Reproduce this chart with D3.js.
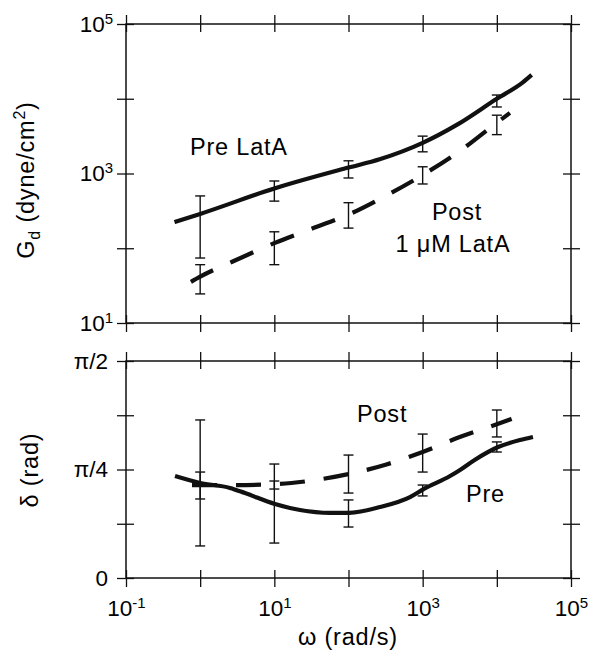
<!DOCTYPE html>
<html><head><meta charset="utf-8">
<script src="https://cdn.jsdelivr.net/npm/d3@7"></script>
<style>
body{margin:0;background:#fff}
svg{display:block}
text{font-family:"Liberation Sans",Arial,Helvetica,sans-serif;fill:#000}
</style>
</head><body><svg id="c" width="592" height="656"></svg>
<script>
// ---------- data ----------
const freqTicks = [0.1, 1, 10, 100, 1000, 10000, 100000];
const gTicks = [10, 100, 1000, 10000, 100000];
const deltaTicks = [0, Math.PI/8, Math.PI/4, 3*Math.PI/8, Math.PI/2];
const deltaTickLabels = ["0", "", "π/4", "", "π/2"];
const errFreq = [1, 10, 100, 1000, 10000];

// G_d curves [omega, G]
const preG = [[0.45,224],[1,288],[10,630],[100,1200],[263,1550],[1000,2570],[2880,4470],[10000,10000],[22400,16600],[29500,20900]];
const postG = [[0.75,35.5],[1,41.7],[2.7,66],[10,117],[31.6,182],[100,282],[316,501],[1000,955],[3162,1995],[10000,4790],[15000,6460]];
// G_d error bars
const preGLow  = [74, 427, 871, 1950, 7762];
const preGHigh = [501, 794, 1479, 3162, 11220];
const postGLow  = [24.5, 60.3, 186, 724, 3311];
const postGHigh = [60.3, 166, 407, 1230, 6026];

// delta curves [omega, rad]
const preD = [[0.458,0.738],[1,0.688],[2.52,0.652],[4.02,0.615],[10.2,0.536],[22.2,0.492],[56,0.471],[102,0.472],[266,0.514],[675,0.586],[1040,0.645],[2340,0.738],[3190,0.782],[5080,0.856],[10400,0.948],[20500,0.999],[30700,1.021]];
const postD = [[0.776,0.673],[2.88,0.673],[11,0.680],[31.6,0.705],[100,0.752],[316,0.820],[1000,0.912],[3162,1.020],[10000,1.113],[15850,1.151]];
// delta error bars
const preDLow  = [0.232, 0.253, 0.369, 0.594, 0.912];
const preDHigh = [1.144, 0.825, 0.565, 0.673, 0.985];
const postDLow  = [0.572, 0.644, 0.615, 0.767, 1.021];
const postDHigh = [0.767, 0.702, 0.890, 1.042, 1.216];

// ---------- scales ----------
const svg = d3.select("#c");
const x = d3.scaleLog().domain([0.1, 1e5]).range([126, 571]);
const yG = d3.scaleLog().domain([10, 1e5]).range([323, 24]);
const yD = d3.scaleLinear().domain([0, Math.PI/2]).range([578, 361]);
const INK = "#111";

function supLabels(g) {
  g.selectAll(".tick text").each(function(d){
    const t = d3.select(this); t.text(null);
    const e = Math.round(Math.log10(d));
    if (e % 2 !== 0) {
      t.append("tspan").text("10");
      t.append("tspan").attr("font-size", 15).attr("dy", -8).text(e);
    }
  });
}
function crossAxis(outAxis, inAxis, tx, ty) {
  const g1 = svg.append("g").attr("transform", `translate(${tx},${ty})`).call(outAxis);
  const g2 = svg.append("g").attr("transform", `translate(${tx},${ty})`).call(inAxis);
  [g1, g2].forEach(g => {
    g.select(".domain").remove();
    g.attr("font-size", 22.5);
    g.selectAll("line").attr("stroke", INK).attr("stroke-width", 1.3);
  });
  g2.selectAll("text").remove();
  return g1;
}
const OUT = 9, IN = 8;

// ---------- top panel axes ----------
let a;
a = crossAxis(d3.axisLeft(yG).tickValues(gTicks).tickSize(OUT).tickPadding(4),
              d3.axisRight(yG).tickValues(gTicks).tickSize(IN).tickFormat(""), 126, 0);
supLabels(a);
crossAxis(d3.axisRight(yG).tickValues(gTicks).tickSize(OUT).tickFormat(""),
          d3.axisLeft(yG).tickValues(gTicks).tickSize(IN).tickFormat(""), 571, 0);
crossAxis(d3.axisTop(x).tickValues(freqTicks).tickSize(OUT).tickFormat(""),
          d3.axisBottom(x).tickValues(freqTicks).tickSize(IN).tickFormat(""), 0, 24);
crossAxis(d3.axisBottom(x).tickValues(freqTicks).tickSize(OUT).tickFormat(""),
          d3.axisTop(x).tickValues(freqTicks).tickSize(IN).tickFormat(""), 0, 323);
svg.append("rect").attr("x", 126).attr("y", 24).attr("width", 445).attr("height", 299)
  .attr("fill", "none").attr("stroke", INK).attr("stroke-width", 1.5);

// ---------- bottom panel axes ----------
a = crossAxis(d3.axisLeft(yD).tickValues(deltaTicks).tickSize(OUT).tickPadding(9).tickFormat((d,i)=>deltaTickLabels[i]),
              d3.axisRight(yD).tickValues(deltaTicks).tickSize(IN).tickFormat(""), 126, 0);
crossAxis(d3.axisRight(yD).tickValues(deltaTicks).tickSize(OUT).tickFormat(""),
          d3.axisLeft(yD).tickValues(deltaTicks).tickSize(IN).tickFormat(""), 571, 0);
crossAxis(d3.axisTop(x).tickValues(freqTicks).tickSize(OUT).tickFormat(""),
          d3.axisBottom(x).tickValues(freqTicks).tickSize(IN).tickFormat(""), 0, 361);
a = crossAxis(d3.axisBottom(x).tickValues(freqTicks).tickSize(OUT).tickPadding(13),
          d3.axisTop(x).tickValues(freqTicks).tickSize(IN).tickFormat(""), 0, 578);
supLabels(a);
svg.append("rect").attr("x", 126).attr("y", 361).attr("width", 445).attr("height", 217)
  .attr("fill", "none").attr("stroke", INK).attr("stroke-width", 1.5);

// ---------- error bars ----------
function errBars(lo, hi, y) {
  const g = svg.append("g").attr("stroke", INK).attr("stroke-width", 1.4);
  errFreq.forEach((f, i) => {
    const cx = x(f);
    g.append("line").attr("x1", cx).attr("x2", cx).attr("y1", y(lo[i])).attr("y2", y(hi[i]));
    [lo[i], hi[i]].forEach(v => g.append("line").attr("x1", cx-5).attr("x2", cx+5).attr("y1", y(v)).attr("y2", y(v)));
  });
}
errBars(preGLow, preGHigh, yG);
errBars(postGLow, postGHigh, yG);
errBars(preDLow, preDHigh, yD);
errBars(postDLow, postDHigh, yD);

// ---------- curves ----------
const lineG = d3.line().x(d => x(d[0])).y(d => yG(d[1])).curve(d3.curveMonotoneX);
const lineD = d3.line().x(d => x(d[0])).y(d => yD(d[1])).curve(d3.curveMonotoneX);
function curve(data, gen, dashed) {
  svg.append("path").attr("d", gen(data)).attr("fill", "none").attr("stroke", INK)
    .attr("stroke-width", 4.2).attr("stroke-linejoin", "round")
    .attr("stroke-dasharray", dashed ? "25,19" : null);
}
curve(preG, lineG, false);
curve(postG, lineG, true);
curve(preD, lineD, false);
curve(postD, lineD, true);

// ---------- annotations ----------
function label(txt, px, py, anchor) {
  svg.append("text").attr("x", px).attr("y", py).attr("font-size", 23.5)
    .attr("letter-spacing", 0.8).attr("text-anchor", anchor).text(txt);
}
label("Pre LatA", 190, 155, "start");
label("Post", 457, 220, "middle");
label("1 μM LatA", 453, 252, "middle");
label("Post", 357, 422, "start");
label("Pre", 466, 502, "start");

// ---------- axis titles ----------
const tG = svg.append("text").attr("transform", "translate(34,180) rotate(-90)")
  .attr("text-anchor", "middle").attr("font-size", 23.5).attr("letter-spacing", 0.8);
tG.append("tspan").text("G");
tG.append("tspan").attr("font-size", 16).attr("dy", 6).text("d");
tG.append("tspan").attr("dy", -6).text(" (dyne/cm");
tG.append("tspan").attr("font-size", 16).attr("dy", -9).text("2");
tG.append("tspan").attr("dy", 9).text(")");

svg.append("text").attr("transform", "translate(38,470) rotate(-90)")
  .attr("text-anchor", "middle").attr("font-size", 23.5).attr("letter-spacing", 0.8).text("δ (rad)");
svg.append("text").attr("x", 348).attr("y", 645)
  .attr("text-anchor", "middle").attr("font-size", 23.5).attr("letter-spacing", 0.8).text("ω (rad/s)");
</script>
</body></html>
